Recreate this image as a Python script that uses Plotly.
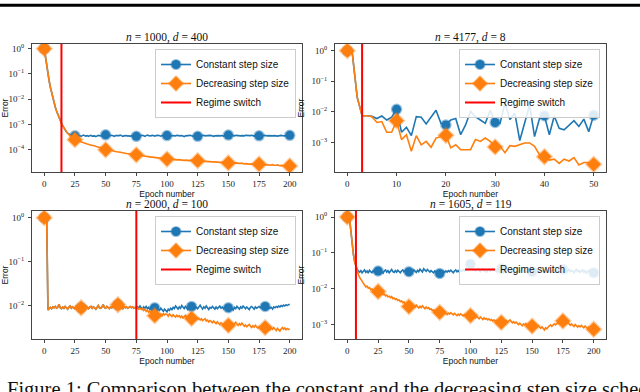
import plotly.graph_objects as go

# ---------------- data: log10(error) per epoch ----------------
# Panel 1: n = 1000, d = 400  (switch at epoch 14)
tl_switch = 14
tl_marker_every = 25
tl_shared = [0.00, -0.35, -0.70, -1.00, -1.28, -1.53, -1.76, -1.96, -2.15, -2.32, -2.47, -2.61, -2.74, -2.85, -2.95]
tl_const_tail = [
    -3.05, -3.14, -3.22, -3.29, -3.34, -3.38, -3.41, -3.43, -3.44, -3.45,
    -3.45, -3.44, -3.46, -3.43, -3.45, -3.47, -3.44, -3.42, -3.45, -3.46, -3.44, -3.47, -3.45, -3.43, -3.46, -3.44, -3.45, -3.48, -3.45, -3.43, -3.44, -3.46, -3.45, -3.43, -3.42,
    -3.41, -3.43, -3.45, -3.44, -3.46, -3.43, -3.45, -3.47, -3.44, -3.45, -3.46, -3.44, -3.42, -3.45, -3.47, -3.45, -3.43, -3.44, -3.46, -3.45, -3.47, -3.44, -3.45, -3.46, -3.48,
    -3.47, -3.45, -3.44, -3.46, -3.45, -3.43, -3.45, -3.47, -3.44, -3.42, -3.44, -3.46, -3.45, -3.43, -3.45, -3.46, -3.44, -3.42, -3.43, -3.45, -3.46, -3.44, -3.43, -3.45, -3.44,
    -3.44, -3.45, -3.43, -3.46, -3.44, -3.45, -3.47, -3.45, -3.43, -3.44, -3.46, -3.45, -3.44, -3.46, -3.48, -3.45, -3.44, -3.46, -3.45, -3.43, -3.45, -3.46, -3.44, -3.45, -3.47,
    -3.47, -3.45, -3.44, -3.46, -3.45, -3.43, -3.45, -3.44, -3.46, -3.45, -3.43, -3.44, -3.46, -3.47, -3.45, -3.44, -3.42, -3.44, -3.45, -3.43, -3.44, -3.46, -3.44, -3.43, -3.42,
    -3.42, -3.43, -3.45, -3.44, -3.46, -3.45, -3.43, -3.44, -3.45, -3.47, -3.45, -3.44, -3.46, -3.45, -3.43, -3.44, -3.45, -3.46, -3.44, -3.43, -3.45, -3.46, -3.44, -3.45, -3.46,
    -3.45, -3.44, -3.46, -3.45, -3.43, -3.44, -3.46, -3.45, -3.44, -3.45, -3.47, -3.45, -3.44, -3.43, -3.45, -3.46, -3.44, -3.45, -3.43, -3.44, -3.46, -3.45, -3.44, -3.43, -3.44,
    -3.43,
]
tl_decr_tail = [
    -3.05, -3.14, -3.22, -3.29, -3.35, -3.40, -3.45, -3.49, -3.53, -3.56,
    -3.60, -3.61, -3.64, -3.65, -3.67, -3.70, -3.70, -3.72, -3.75, -3.75, -3.77, -3.79, -3.79, -3.81, -3.83, -3.83, -3.85, -3.87, -3.87, -3.89, -3.91, -3.91, -3.93, -3.96, -3.97,
    -4.00, -3.99, -4.01, -4.03, -4.02, -4.04, -4.05, -4.05, -4.07, -4.08, -4.08, -4.10, -4.10, -4.11, -4.13, -4.12, -4.14, -4.15, -4.15, -4.16, -4.17, -4.17, -4.19, -4.18, -4.19,
    -4.20, -4.21, -4.21, -4.23, -4.22, -4.24, -4.25, -4.24, -4.26, -4.27, -4.27, -4.28, -4.29, -4.29, -4.30, -4.31, -4.30, -4.32, -4.33, -4.32, -4.34, -4.34, -4.35, -4.34, -4.36,
    -4.37, -4.36, -4.37, -4.38, -4.37, -4.39, -4.38, -4.39, -4.40, -4.39, -4.40, -4.41, -4.40, -4.41, -4.42, -4.41, -4.40, -4.42, -4.43, -4.42, -4.41, -4.43, -4.42, -4.43, -4.44,
    -4.43, -4.44, -4.45, -4.44, -4.45, -4.46, -4.45, -4.46, -4.47, -4.46, -4.47, -4.48, -4.47, -4.46, -4.48, -4.49, -4.48, -4.49, -4.50, -4.49, -4.48, -4.50, -4.51, -4.50, -4.51,
    -4.52, -4.51, -4.52, -4.53, -4.52, -4.54, -4.53, -4.52, -4.54, -4.55, -4.54, -4.53, -4.55, -4.56, -4.55, -4.54, -4.56, -4.57, -4.56, -4.55, -4.57, -4.56, -4.58, -4.57, -4.56,
    -4.57, -4.58, -4.57, -4.59, -4.58, -4.59, -4.60, -4.59, -4.60, -4.61, -4.60, -4.59, -4.61, -4.62, -4.61, -4.60, -4.62, -4.63, -4.62, -4.61, -4.63, -4.64, -4.63, -4.62, -4.64,
    -4.64,
]

# Panel 2: n = 4177, d = 8  (switch at epoch 3)
tr_switch = 3
tr_marker_every = 10
tr_shared = [0.00, -0.07, -1.52, -2.13]
tr_const_tail = [
    -2.13, -2.15, -2.22, -2.14, -2.27, -2.18, -1.92, -2.67, -2.51, -2.78,
    -2.16, -2.18, -2.40, -2.16, -1.95, -2.38, -2.43, -2.27, -2.22, -2.75,
    -2.43, -1.98, -2.16, -2.27, -2.38, -1.95, -2.35, -2.38, -1.71, -2.25,
    -2.05, -2.94, -2.40, -1.78, -2.81, -2.22, -2.13, -2.75, -2.14, -2.54,
    -2.59, -2.43, -2.29, -2.48, -2.24, -2.65, -2.11,
]
tr_decr_tail = [
    -2.13, -2.16, -2.35, -2.32, -2.67, -2.67, -2.29, -2.91, -2.75, -3.29,
    -2.78, -3.08, -2.97, -3.16, -2.86, -2.81, -2.77, -3.18, -3.08, -3.24,
    -3.24, -3.24, -2.91, -2.97, -2.86, -2.97, -3.15, -3.13, -3.34, -3.11,
    -3.13, -3.08, -3.02, -3.02, -3.13, -3.40, -3.47, -3.58, -3.55, -3.69,
    -3.55, -3.61, -3.50, -3.74, -3.66, -3.66, -3.72,
]

# Panel 3: n = 2000, d = 100  (switch at epoch 75)
bl_switch = 75
bl_marker_every = 30
bl_shared = [
    0.00, -0.04, -0.08, -2.10,
    -2.06, -2.04, -2.07, -2.03, -2.05, -2.02, -2.06, -2.04, -1.97, -2.05, -2.07, -2.03, -2.06, -2.02, -2.05, -2.08, -2.04, -2.01, -2.06, -2.03, -2.05, -2.07, -2.02, -2.04, -2.06, -2.03,
    -2.05, -2.08, -2.03, -2.06, -2.01, -2.05, -2.07, -2.04, -2.02, -2.06, -2.03, -2.05, -2.08, -2.04, -2.00, -2.05, -2.06, -2.03, -1.98, -2.04, -2.06, -2.02, -2.05, -2.07, -2.03, -2.05, -2.01, -2.04, -2.06, -2.02,
    -1.98, -2.03, -2.06, -2.04, -2.07, -2.02, -2.05, -2.03, -2.06, -2.04, -2.02, -2.05, -2.03, -2.06, -2.04, -2.05,
]
bl_const_tail = [
    -2.03, -2.06, -2.01, -2.05, -2.08, -2.03, -2.06, -2.02, -2.07, -2.04, -2.09, -2.03, -2.06, -2.08, -2.05, -2.10, -2.04, -2.07, -2.11, -2.06, -2.09, -2.13, -2.08, -2.12,
    -2.14, -2.08, -2.11, -2.06, -2.09, -2.04, -2.07, -2.01, -2.05, -2.08, -2.03, -2.06, -2.00, -2.04, -2.07, -2.02, -2.05, -2.09, -2.04, -2.06, -2.02, -2.05, -2.01, -2.06, -2.04,
    -2.07, -2.03, -1.99, -2.04, -2.08, -2.03, -2.06, -2.01, -2.05, -2.09, -2.04, -2.06, -2.02, -2.05, -2.08, -2.03, -2.07, -2.04, -2.01, -2.06, -2.03, -2.07, -2.04, -2.06, -2.08,
    -2.05, -2.07, -2.03, -2.06, -2.10, -2.04, -2.07, -2.02, -2.05, -2.08, -2.03, -2.06, -2.01, -2.05, -2.07, -2.03, -2.06, -2.09, -2.04, -2.02, -2.05, -2.08, -2.03, -2.06, -2.04,
    -2.02, -2.05, -2.03, -2.06, -2.04, -2.02, -2.05, -2.07, -2.03, -2.06, -2.04, -2.08, -2.03, -2.05, -2.02, -2.04, -2.01, -2.03, -2.00, -2.02, -1.99, -2.01, -1.98, -2.00, -1.98, -1.97,
]
bl_decr_tail = [
    -2.05, -2.08, -2.06, -2.09, -2.07, -2.11, -2.08, -2.13, -2.10, -2.15, -2.12, -2.17, -2.14, -2.19, -2.23, -2.18, -2.21, -2.17, -2.22, -2.19, -2.23, -2.18, -2.21, -2.19,
    -2.20, -2.24, -2.19, -2.22, -2.25, -2.21, -2.23, -2.26, -2.22, -2.25, -2.23, -2.27, -2.24, -2.28, -2.25, -2.22, -2.27, -2.30, -2.26, -2.29, -2.29, -2.32, -2.27, -2.30, -2.28,
    -2.31, -2.29, -2.33, -2.30, -2.34, -2.32, -2.30, -2.35, -2.33, -2.37, -2.34, -2.36, -2.39, -2.35, -2.38, -2.41, -2.37, -2.40, -2.43, -2.39, -2.42, -2.45, -2.41, -2.44, -2.47,
    -2.45, -2.48, -2.43, -2.40, -2.44, -2.41, -2.38, -2.42, -2.45, -2.41, -2.44, -2.40, -2.43, -2.47, -2.44, -2.48, -2.45, -2.43, -2.47, -2.50, -2.46, -2.49, -2.45, -2.48, -2.51,
    -2.48, -2.52, -2.49, -2.46, -2.50, -2.50, -2.53, -2.49, -2.52, -2.55, -2.51, -2.54, -2.50, -2.53, -2.57, -2.52, -2.55, -2.58, -2.53, -2.50, -2.54, -2.51, -2.55, -2.52, -2.54, -2.53,
]

# Panel 4: n = 1605, d = 119  (switch at epoch 7)
br_switch = 7
br_marker_every = 25
br_shared = [0.00, -0.03, -0.10, -0.45, -0.80, -1.05, -1.25, -1.38]
br_const_tail = [
    -1.45, -1.50, -1.53, -1.49, -1.55, -1.51, -1.47, -1.54, -1.50, -1.56, -1.48, -1.52, -1.55, -1.49, -1.53, -1.47, -1.51,
    -1.50, -1.54, -1.48, -1.52, -1.56, -1.50, -1.47, -1.53, -1.49, -1.55, -1.51, -1.46, -1.52, -1.54, -1.49, -1.53, -1.48, -1.51, -1.55, -1.50, -1.47, -1.52, -1.49, -1.54, -1.51,
    -1.52, -1.55, -1.49, -1.53, -1.47, -1.50, -1.54, -1.48, -1.52, -1.45, -1.49, -1.53, -1.44, -1.48, -1.51, -1.46, -1.50, -1.53, -1.49, -1.52, -1.55, -1.50, -1.54, -1.57, -1.52,
    -1.57, -1.53, -1.56, -1.51, -1.54, -1.50, -1.53, -1.49, -1.52, -1.48, -1.51, -1.55, -1.50, -1.47, -1.52, -1.49, -1.53, -1.48, -1.51, -1.46, -1.50, -1.47, -1.44, -1.48, -1.40,
    -1.31, -1.42, -1.48, -1.45, -1.50, -1.46, -1.43, -1.49, -1.52, -1.47, -1.44, -1.50, -1.46, -1.53, -1.48, -1.45, -1.51, -1.47, -1.43, -1.49, -1.46, -1.52, -1.48, -1.45, -1.47,
    -1.44, -1.49, -1.53, -1.47, -1.51, -1.45, -1.50, -1.54, -1.48, -1.46, -1.52, -1.49, -1.55, -1.50, -1.47, -1.53, -1.49, -1.45, -1.51, -1.48, -1.54, -1.50, -1.46, -1.52, -1.49,
    -1.52, -1.48, -1.54, -1.50, -1.46, -1.53, -1.49, -1.45, -1.51, -1.48, -1.54, -1.50, -1.47, -1.52, -1.49, -1.55, -1.51, -1.46, -1.50, -1.53, -1.48, -1.51, -1.47, -1.52, -1.49,
    -1.45, -1.50, -1.47, -1.53, -1.49, -1.46, -1.52, -1.48, -1.51, -1.55, -1.49, -1.46, -1.52, -1.48, -1.54, -1.50, -1.47, -1.53, -1.49, -1.56, -1.51, -1.48, -1.54, -1.50, -1.57, -1.55,
]
br_decr_tail = [
    -1.50, -1.60, -1.68, -1.74, -1.80, -1.84, -1.90, -1.94, -1.92, -1.98, -1.96, -2.02, -2.00, -2.04, -2.02, -2.06, -2.05,
    -2.07, -2.10, -2.08, -2.13, -2.16, -2.14, -2.19, -2.17, -2.22, -2.20, -2.24, -2.21, -2.27, -2.25, -2.29, -2.27, -2.32, -2.30, -2.35, -2.33, -2.38, -2.36, -2.42, -2.40, -2.45,
    -2.49, -2.44, -2.47, -2.43, -2.46, -2.50, -2.45, -2.49, -2.53, -2.48, -2.52, -2.47, -2.51, -2.55, -2.50, -2.54, -2.52, -2.57, -2.55, -2.60, -2.58, -2.62, -2.59, -2.63, -2.61,
    -2.65, -2.62, -2.66, -2.69, -2.65, -2.68, -2.71, -2.67, -2.70, -2.66, -2.69, -2.72, -2.68, -2.71, -2.74, -2.70, -2.73, -2.69, -2.72, -2.75, -2.71, -2.74, -2.70, -2.73, -2.76,
    -2.74, -2.77, -2.73, -2.76, -2.80, -2.76, -2.79, -2.83, -2.78, -2.81, -2.85, -2.80, -2.84, -2.82, -2.86, -2.83, -2.87, -2.85, -2.89, -2.86, -2.90, -2.87, -2.91, -2.89, -2.92,
    -2.93, -2.90, -2.94, -2.91, -2.88, -2.92, -2.89, -2.86, -2.90, -2.94, -2.91, -2.95, -2.92, -2.96, -2.99, -2.95, -2.98, -3.02, -2.97, -3.00, -2.96, -2.99, -3.03, -2.99, -3.02,
    -3.03, -3.00, -3.04, -3.01, -3.06, -3.02, -3.05, -3.09, -3.05, -3.10, -3.14, -3.08, -3.11, -3.06, -3.03, -3.00, -3.04, -3.01, -2.97, -3.00, -2.96, -2.93, -2.97, -2.90, -2.86,
    -2.89, -2.85, -2.92, -2.96, -2.93, -2.98, -3.01, -2.97, -3.00, -3.04, -2.99, -3.03, -3.06, -3.02, -3.05, -3.01, -3.04, -3.08, -3.03, -3.07, -3.10, -3.06, -3.09, -3.05, -3.08, -3.12,
]

titles = ["<i>n</i> = 1000, <i>d</i> = 400", "<i>n</i> = 4177, <i>d</i> = 8",
          "<i>n</i> = 2000, <i>d</i> = 100", "<i>n</i> = 1605, <i>d</i> = 119"]
x_ticks_long = [0, 25, 50, 75, 100, 125, 150, 175, 200]
x_ticks_short = [0, 10, 20, 30, 40, 50]
series_names = ["Constant step size", "Decreasing step size", "Regime switch"]
caption = "Figure 1: Comparison between the constant and the decreasing step size schedules"

# ---------------- styling / layout ----------------
W, H = 640, 392
BLUE, ORANGE, RED = "#1f77b4", "#ff7f0e", "#ff0000"
SERIF = "Liberation Serif"
SANS = "Liberation Sans"

def px_x(a, b):
    return [a / W, b / W]

def px_y(top, bottom):
    return [1 - bottom / H, 1 - top / H]

panels = [
    dict(shared=tl_shared, const=tl_const_tail, decr=tl_decr_tail, switch=tl_switch, every=tl_marker_every,
         xr=[-10, 210], yr=[-4.88, 0.184], yexp=[0, -1, -2, -3, -4], xt=x_ticks_long,
         dx=px_x(32, 302), dy=px_y(44, 172)),
    dict(shared=tr_shared, const=tr_const_tail, decr=tr_decr_tail, switch=tr_switch, every=tr_marker_every,
         xr=[-2.5, 52.5], yr=[-3.97, 0.217], yexp=[0, -1, -2, -3], xt=x_ticks_short,
         dx=px_x(335, 606), dy=px_y(44, 172)),
    dict(shared=bl_shared, const=bl_const_tail, decr=bl_decr_tail, switch=bl_switch, every=bl_marker_every,
         xr=[-10, 210], yr=[-2.76, 0.152], yexp=[0, -1, -2], xt=x_ticks_long,
         dx=px_x(32, 302), dy=px_y(211, 339)),
    dict(shared=br_shared, const=br_const_tail, decr=br_decr_tail, switch=br_switch, every=br_marker_every,
         xr=[-10, 210], yr=[-3.39, 0.167], yexp=[0, -1, -2, -3], xt=x_ticks_long,
         dx=px_x(335, 606), dy=px_y(211, 339)),
]

def sup_label(e):
    s = str(e).replace("-", "\u2212")
    return "10<sup>" + s + "</sup>"

fig = go.Figure()
layout = dict(width=W, height=H, margin=dict(l=0, r=0, t=0, b=0),
              paper_bgcolor="white", plot_bgcolor="white", showlegend=True,
              annotations=[], shapes=[])

for i, p in enumerate(panels):
    k = "" if i == 0 else str(i + 1)
    xa, ya = "x" + k, "y" + k
    lg = "legend" + k
    const_log = p["shared"] + p["const"]
    decr_log = p["shared"] + p["decr"]
    epochs = list(range(len(const_log)))
    const_vals = [10 ** v for v in const_log]
    decr_vals = [10 ** v for v in decr_log]
    mk_idx = list(range(0, len(epochs), p["every"]))

    fig.add_trace(go.Scatter(x=epochs, y=const_vals, mode="lines", line=dict(color=BLUE, width=1.6),
                             xaxis=xa, yaxis=ya, showlegend=False, hoverinfo="skip"))
    fig.add_trace(go.Scatter(x=[epochs[j] for j in mk_idx], y=[const_vals[j] for j in mk_idx], mode="markers",
                             marker=dict(symbol="circle", size=9, color=BLUE,
                                         line=dict(color="rgba(31,119,180,0.45)", width=2.5)),
                             xaxis=xa, yaxis=ya, showlegend=False, hoverinfo="skip"))
    fig.add_trace(go.Scatter(x=epochs, y=decr_vals, mode="lines", line=dict(color=ORANGE, width=1.6),
                             xaxis=xa, yaxis=ya, showlegend=False, hoverinfo="skip"))
    fig.add_trace(go.Scatter(x=[epochs[j] for j in mk_idx], y=[decr_vals[j] for j in mk_idx], mode="markers",
                             marker=dict(symbol="diamond", size=11, color=ORANGE,
                                         line=dict(color="rgba(255,127,14,0.4)", width=2.5)),
                             xaxis=xa, yaxis=ya, showlegend=False, hoverinfo="skip"))
    fig.add_trace(go.Scatter(x=[p["switch"], p["switch"]], y=[10 ** p["yr"][0], 10 ** p["yr"][1]],
                             mode="lines", line=dict(color=RED, width=2), name=series_names[2],
                             legend=lg, legendrank=3, xaxis=xa, yaxis=ya, hoverinfo="skip"))
    fig.add_trace(go.Scatter(x=[None], y=[None], mode="lines+markers", name=series_names[0],
                             line=dict(color=BLUE, width=1.6),
                             marker=dict(symbol="circle", size=9, color=BLUE,
                                         line=dict(color="rgba(31,119,180,0.45)", width=2)),
                             legend=lg, legendrank=1, xaxis=xa, yaxis=ya))
    fig.add_trace(go.Scatter(x=[None], y=[None], mode="lines+markers", name=series_names[1],
                             line=dict(color=ORANGE, width=1.6),
                             marker=dict(symbol="diamond", size=11, color=ORANGE,
                                         line=dict(color="rgba(255,127,14,0.4)", width=2)),
                             legend=lg, legendrank=2, xaxis=xa, yaxis=ya))

    axis_common = dict(showline=True, linecolor="#444", linewidth=1, mirror=True, ticks="outside",
                       ticklen=3, tickwidth=1, tickcolor="#444", showgrid=False, zeroline=False,
                       automargin=False, tickfont=dict(family=SERIF, size=9, color="#222"))
    layout["xaxis" + k] = dict(axis_common, domain=p["dx"], range=p["xr"], anchor=ya,
                               tickvals=p["xt"], ticktext=[str(t) for t in p["xt"]],
                               title=dict(text="Epoch number", standoff=0,
                                          font=dict(family=SANS, size=8.5, color="#111")))
    layout["yaxis" + k] = dict(axis_common, domain=p["dy"], type="log", range=p["yr"], anchor=xa,
                               tickvals=[10 ** e for e in p["yexp"]],
                               ticktext=[sup_label(e) for e in p["yexp"]],
                               ticklabelstandoff=2,
                               title=dict(text="Error", standoff=5,
                                          font=dict(family=SANS, size=8.5, color="#111")))
    layout[lg] = dict(x=(p["dx"][1] * W - 6) / W, y=p["dy"][1] - 5 / H, xanchor="right", yanchor="top",
                      bgcolor="rgba(255,255,255,0.85)", bordercolor="#cccccc", borderwidth=1,
                      font=dict(family=SANS, size=10, color="#111"), itemwidth=30, tracegroupgap=0)
    layout["annotations"].append(dict(text=titles[i], xref="paper", yref="paper",
                                      x=(p["dx"][0] + p["dx"][1]) / 2, y=p["dy"][1] + 6.5 / H,
                                      xanchor="center", yanchor="middle", showarrow=False,
                                      font=dict(family=SERIF, size=11.5, color="#111")))

layout["shapes"].append(dict(type="line", xref="paper", yref="paper", x0=0, x1=1,
                             y0=1 - 5.3 / H, y1=1 - 5.3 / H, line=dict(color="black", width=3)))
layout["annotations"].append(dict(text=caption, xref="paper", yref="paper", x=5 / W, y=1 - 376 / H,
                                  xanchor="left", yanchor="top", showarrow=False,
                                  font=dict(family=SERIF, size=20.5, color="#111")))

fig.update_layout(**layout)
fig.write_html("out.html", config={"displayModeBar": False, "staticPlot": True},
               post_script="document.body.style.margin='0';document.body.style.overflow='hidden';")
